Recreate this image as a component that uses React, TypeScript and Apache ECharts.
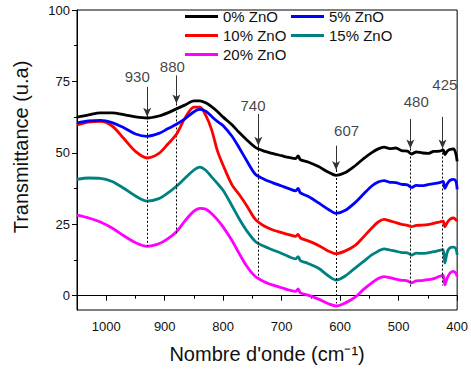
import React, { useEffect, useRef } from "react";
import * as echarts from "echarts";

// Wavenumber grid (cm-1) shared by every spectrum
const wavenumbers = [
  1050, 1030, 1010, 990, 970, 950, 930, 910, 895, 880, 865, 850, 840, 830, 820, 810, 800, 785, 773, 760,
  745, 730, 716, 700, 688, 676, 672, 668, 655, 637, 620, 607, 592, 575, 560, 546, 535, 525, 515, 505,
  495, 485, 478, 470, 460, 450, 440, 430, 424, 421, 417, 412, 406, 402, 400,
];

const zno0 = [
  62.5, 63.3, 64.0, 64.0, 63.4, 62.6, 62.2, 62.9, 64.0, 65.4, 66.8, 68.2, 68.2, 67.5, 66.2, 64.5, 62.5, 59.8, 57.2, 54.6,
  51.9, 50.6, 49.8, 49.0, 48.4, 48.0, 48.9, 47.6, 46.8, 45.2, 43.2, 42.1, 43.0, 45.4, 48.0, 50.1, 51.4, 52.0, 51.5, 51.7,
  50.8, 50.6, 49.6, 50.3, 50.0, 49.8, 50.5, 50.6, 51.0, 49.4, 50.6, 51.2, 51.4, 49.5, 47.0,
];

const zno5 = [
  60.5, 61.2, 61.4, 60.6, 58.8, 56.6, 55.8, 56.8, 58.4, 60.0, 62.0, 64.4, 65.2, 64.6, 62.8, 61.0, 59.5, 55.8, 51.9, 47.3,
  42.5, 40.8, 39.6, 38.4, 37.5, 36.7, 37.6, 36.0, 34.8, 32.5, 30.2, 28.8, 29.8, 32.5, 35.6, 38.4, 39.8, 40.3, 39.7, 39.6,
  39.0, 38.8, 37.9, 38.6, 38.5, 38.9, 39.2, 39.6, 40.0, 37.6, 39.2, 40.4, 40.7, 40.0, 37.2,
];

const zno10 = [
  59.8, 60.8, 61.0, 59.4, 55.0, 50.5, 48.2, 49.8, 53.0, 56.5, 62.3, 66.0, 66.0, 63.2, 58.2, 50.8, 45.6, 38.8, 35.5, 31.6,
  26.7, 24.4, 23.1, 22.1, 21.4, 20.8, 21.5, 20.2, 19.2, 17.6, 15.6, 14.7, 15.6, 17.5, 20.6, 23.7, 25.8, 26.7, 26.2, 25.6,
  25.0, 24.6, 24.2, 24.6, 24.7, 24.9, 25.3, 25.8, 26.1, 24.1, 25.6, 26.8, 27.2, 26.6, 26.0,
];

const zno15 = [
  40.7, 41.2, 41.1, 40.0, 37.6, 34.9, 33.1, 34.0, 35.9, 38.3, 41.2, 44.0, 45.0, 43.9, 41.6, 39.3, 36.8, 31.5, 27.0, 22.8,
  19.0, 17.3, 16.1, 14.8, 13.7, 12.9, 13.7, 12.3, 11.3, 9.6, 6.9, 5.5, 6.8, 9.6, 12.0, 14.3, 15.6, 16.4, 16.0, 15.6,
  15.1, 15.0, 14.2, 14.9, 14.8, 15.0, 15.4, 15.9, 16.1, 11.4, 15.2, 16.8, 17.0, 16.4, 14.3,
];

const zno20 = [
  28.2, 27.2, 25.8, 23.7, 21.0, 18.6, 17.3, 18.2, 19.9, 22.4, 26.3, 29.6, 30.6, 30.3, 28.8, 26.6, 24.0, 19.3, 14.9, 10.4,
  6.7, 4.9, 3.8, 2.8, 2.0, 1.5, 2.4, 1.0, 0.2, -1.2, -2.8, -3.6, -2.6, -0.6, 2.2, 4.5, 6.0, 6.7, 6.3, 5.8,
  5.4, 5.2, 4.5, 5.2, 5.3, 5.6, 6.0, 6.8, 7.2, 3.8, 6.2, 8.0, 8.5, 7.8, 6.7,
];

const seriesNames = ["0% ZnO", "5% ZnO", "10% ZnO", "15% ZnO", "20% ZnO"];
const seriesColors = ["#000000", "#0000ff", "#ff0000", "#008080", "#ff00ff"];
const seriesValues = [zno0, zno5, zno10, zno15, zno20];

// Marked absorption bands
const bandPositions = [930, 880, 740, 607, 480, 425];
const bandLabels = ["930", "880", "740", "607", "480", "425"];
const arrowTop = [73.1, 77.1, 63.6, 52.5, 61.9, 62.6];
const arrowTip = [62.6, 67.3, 52.5, 44.0, 51.5, 51.5];
const guideBottom = [17.3, 21.4, 6.2, -2.7, 3.2, 3.6];
const labelX = [947, 887, 749, 589, 470, 421];
const labelY = [76.7, 80.2, 66.5, 57.7, 67.9, 73.8];

// Axis ticks
const yMajorTicks = [0, 25, 50, 75, 100];
const yMinorTicks = [12.5, 37.5, 62.5, 87.5];
const xMajorTicks = [400, 500, 600, 700, 800, 900, 1000];
const xMinorTicks = [450, 550, 650, 750, 850, 950, 1050];

const FONT = "Arial, 'Liberation Sans', Helvetica, sans-serif";
const TEXT = "#111";

export default function App() {
  const ref = useRef<HTMLDivElement>(null);

  useEffect(() => {
    document.body.style.margin = "0";
    if (!ref.current) return;
    const chart = echarts.init(ref.current, null, { renderer: "svg" });

    const lineSeries = seriesNames.map((name, k) => ({
      name,
      type: "line",
      xAxisIndex: 0,
      yAxisIndex: 0,
      data: wavenumbers.map((w, i) => [w, seriesValues[k][i]]),
      showSymbol: false,
      symbol: "none",
      smooth: 0.3,
      color: seriesColors[k],
      lineStyle: { color: seriesColors[k], width: 2.8 },
      z: 3 + (4 - k),
    }));

    const legendBase = {
      orient: "vertical" as const,
      top: 4,
      icon: "rect",
      itemWidth: 33,
      itemHeight: 3,
      itemGap: 4,
      textStyle: { fontFamily: FONT, fontSize: 15, lineHeight: 15, color: TEXT },
    };

    chart.setOption({
      animation: false,
      grid: {
        left: 77,
        right: 11,
        top: 10,
        bottom: 62,
        show: true,
        borderColor: "#000",
        borderWidth: 1,
        backgroundColor: "transparent",
      },
      legend: [
        { ...legendBase, data: ["0% ZnO", "10% ZnO", "20% ZnO"], left: 180 },
        { ...legendBase, data: ["5% ZnO", "15% ZnO"], left: 286 },
      ],
      graphic: [
        {
          type: "text",
          x: 21,
          y: 147,
          rotation: Math.PI / 2,
          silent: true,
          style: {
            text: "Transmittance (u.a)",
            font: `20px ${FONT}`,
            fill: TEXT,
            align: "center",
            verticalAlign: "middle",
          },
        },
      ],
      xAxis: [
        {
          type: "value",
          min: 400,
          max: 1050,
          inverse: true,
          position: "bottom",
          splitLine: { show: false },
          name: "Nombre d'onde (cm⁻¹)",
          nameLocation: "middle",
          nameGap: 34,
          nameTextStyle: { fontFamily: FONT, fontSize: 20, color: TEXT },
          axisLine: { show: true, lineStyle: { color: "#000", width: 1 } },
          axisTick: { show: true, length: 5, customValues: xMajorTicks, lineStyle: { color: "#000" } },
          axisLabel: {
            customValues: xMajorTicks,
            formatter: (v: number) => String(v),
            margin: 10,
            fontFamily: FONT,
            fontSize: 13,
            color: TEXT,
          },
        },
        {
          type: "value",
          min: 400,
          max: 1050,
          inverse: true,
          position: "bottom",
          offset: 0,
          splitLine: { show: false },
          axisLine: { show: false },
          axisTick: { show: true, length: 3, customValues: xMinorTicks, lineStyle: { color: "#000" } },
          axisLabel: { show: false },
        },
      ],
      yAxis: [
        {
          type: "value",
          min: -5,
          max: 100,
          position: "left",
          splitLine: { show: false },
          axisLine: { show: true, lineStyle: { color: "#000", width: 1 } },
          axisTick: { show: true, length: 5, customValues: yMajorTicks, lineStyle: { color: "#000" } },
          axisLabel: {
            customValues: yMajorTicks,
            margin: 7,
            fontFamily: FONT,
            fontSize: 13,
            color: TEXT,
          },
        },
        {
          type: "value",
          min: -5,
          max: 100,
          position: "left",
          offset: 0,
          splitLine: { show: false },
          axisLine: { show: false },
          axisTick: { show: true, length: 3, customValues: yMinorTicks, lineStyle: { color: "#000" } },
          axisLabel: { show: false },
        },
      ],
      series: [
        ...lineSeries,
        {
          name: "guides",
          type: "line",
          data: [],
          silent: true,
          markLine: {
            silent: true,
            symbol: ["none", "none"],
            label: { show: false },
            lineStyle: { color: "#000", width: 1, type: [2, 2] },
            data: bandPositions.map((b, i) => [
              { coord: [b, arrowTip[i]] },
              { coord: [b, guideBottom[i]] },
            ]),
          },
          z: 2,
        },
        {
          name: "arrows",
          type: "line",
          data: [],
          silent: true,
          markLine: {
            silent: true,
            symbol: ["none", "arrow"],
            symbolSize: [6, 9],
            label: { show: false },
            lineStyle: { color: "#333", width: 1, type: "solid" },
            data: bandPositions.map((b, i) => [
              { coord: [b, arrowTop[i]] },
              { coord: [b, arrowTip[i]] },
            ]),
          },
          z: 10,
        },
        {
          name: "bandLabels",
          type: "scatter",
          silent: true,
          symbolSize: 0,
          data: bandLabels.map((t, i) => ({ value: [labelX[i], labelY[i]], name: t })),
          label: {
            show: true,
            position: "inside",
            formatter: (p: any) => p.name,
            fontFamily: FONT,
            fontSize: 15,
            color: TEXT,
          },
          z: 10,
        },
      ],
    });

    return () => chart.dispose();
  }, []);

  return <div ref={ref} style={{ width: 471, height: 372 }} />;
}
